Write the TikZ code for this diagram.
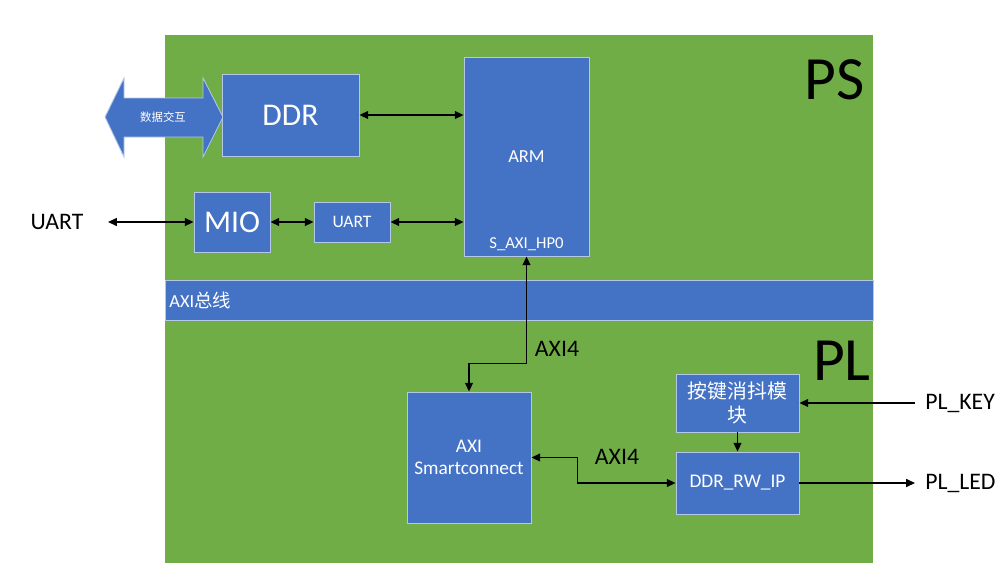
\documentclass[tikz,border=0pt]{standalone}
\usepackage{fontspec}
\setmainfont{Carlito}
\newfontfamily\cjk{Noto Sans CJK SC}
\usetikzlibrary{arrows.meta,positioning,calc}

\definecolor{psgreen}{HTML}{70AD47}
\definecolor{blockblue}{HTML}{4472C4}
\definecolor{blockedge}{HTML}{B4C7E7}

\begin{document}
\begin{tikzpicture}[x=0.02cm, y=-0.02cm]
	\def\px{0.02cm}
	\tikzset{
		block/.style={fill=blockblue, draw=blockedge, line width=0.5pt, text=white, align=center, inner sep=0pt},
		tag/.style={text=black, inner sep=0pt, font=\fontsize{13.5}{16}\selectfont},
		big/.style={text=black, inner sep=0pt, anchor=base east, font=\fontsize{35}{40}\selectfont},
		link/.style={line width=0.7pt, {Triangle[length=5pt,width=4.5pt]}-{Triangle[length=5pt,width=4.5pt]}},
		into/.style={line width=0.7pt, -{Triangle[length=5pt,width=4.5pt]}},
	}
	\useasboundingbox (0,0) rectangle (1006,568);
	
	% Background of the chip and the AXI bus across it.
	\fill[psgreen] (165,35) rectangle (873,563);
	\node[block, minimum width=708*\px, minimum height=40*\px] (bus) at (519,300) {};
	\node[text=white, anchor=west, inner sep=0pt, font=\fontsize{10.5}{13}\selectfont] (buslabel) at (169,300) {AXI{\cjk 总线}};
	
	% Data exchange arrow next to the DDR.
	\filldraw[fill=blockblue, draw=blockedge, line width=0.5pt] (105,117) -- (124,78) -- (124,98) -- (203,98) -- (203,78) -- (223,117)
		-- (203,157) -- (203,137) -- (124,137) -- (124,157) -- cycle;
	\node[text=white, inner sep=0pt, font=\cjk\fontsize{6.5}{8}\selectfont] (xchg) at (163,117) {数据交互};
	
	% PS blocks
	\node[block, minimum width=137*\px, minimum height=82*\px, font=\fontsize{18}{22}\selectfont] (ddr) at (290.5,115) {DDR};
	\node[block, minimum width=125*\px, minimum height=199*\px, font=\fontsize{10.5}{13}\selectfont] (arm) at (526.5,156.5) {ARM};
	\node[text=white, anchor=base, inner sep=0pt, font=\fontsize{9.5}{12}\selectfont] (hp0) at ($(arm.south)+(0,-8)$) {S\_AXI\_HP0};
	\node[block, minimum width=76*\px, minimum height=60*\px, font=\fontsize{18}{22}\selectfont] (mio) at (232,222) {MIO};
	\node[block, minimum width=76*\px, minimum height=40*\px, font=\fontsize{10}{12}\selectfont] (uart) at (352,222) {UART};
	
	% PL blocks
	\node[block, minimum width=124*\px, minimum height=131*\px, font=\fontsize{11}{12.5}\selectfont] (smart) at (469,457.5) {AXI\\Smartconnect};
	\node[block, minimum width=123*\px, minimum height=58*\px, font=\cjk\fontsize{11.3}{13.6}\selectfont] (key) at (737.5,403) {按键消抖模\\块};
	\node[block, minimum width=123*\px, minimum height=62*\px, font=\fontsize{11}{13}\selectfont] (ddrrw) at (737.5,483) {DDR\_RW\_IP};
	
	% Labels
	\node[big] (ps) at (865,99) {PS};
	\node[big] (pl) at (871,380) {PL};
	\node[tag] (uartpin) at (57,222) {UART};
	\node[tag] (axitop) at (557,349) {AXI4};
	\node[tag] (axibot) at (617,457) {AXI4};
	\node[tag, anchor=west] (plkey) at (925,403) {PL\_KEY};
	\node[tag, anchor=west] (plled) at (925,483) {PL\_LED};
	\coordinate (uartend) at (108,222);
	\coordinate (keyin) at (915,403);
	\coordinate (ledout) at (915,483);
	
	% Connectors
	\draw[link] (ddr.east) -- (ddr.east -| arm.west);
	\draw[link] (uartend) -- (mio.west);
	\draw[link] (mio.east) -- (uart.west);
	\draw[link] (uart.east) -- (uart.east -| arm.west);
	\draw[link] (arm.south) -- ++(0,107) -| (smart.north);
	\draw[link] (smart.east) -- ++(46,0) |- (ddrrw.west);
	\draw[into] (key.south) -- (ddrrw.north);
	\draw[into] (keyin) -- (key.east);
	\draw[into] (ddrrw.east) -- (ledout);
\end{tikzpicture}
\end{document}
